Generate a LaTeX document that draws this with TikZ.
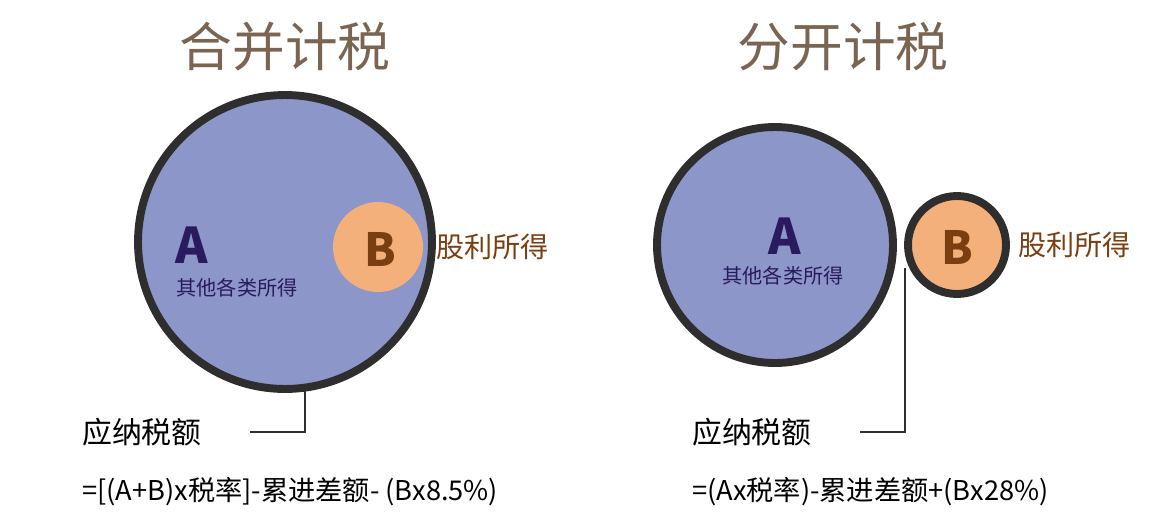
\documentclass[tikz,border=0pt]{standalone}
\usepackage{fontspec}
\setmainfont{Noto Sans CJK SC}
\usetikzlibrary{positioning}
\definecolor{title}{HTML}{7A6552}
\definecolor{ringA}{HTML}{8C96C8}
\definecolor{ringB}{HTML}{F4B07A}
\definecolor{navy}{HTML}{2A1A5E}
\definecolor{brownB}{HTML}{7A3E10}
\definecolor{edge}{HTML}{2E2E2E}
\begin{document}
\begin{tikzpicture}[x=0.02cm,y=-0.02cm,
    heading/.style={font=\fontsize{30}{36}\selectfont, text=title},
    bigcircle/.style={circle, fill=ringA, draw=edge, line width=4.5pt},
    letterA/.style={font=\fontsize{28}{32}\selectfont\bfseries, text=navy},
    letterB/.style={font=\fontsize{26}{30}\selectfont\bfseries, text=brownB},
    small/.style={font=\fontsize{11.5}{14}\selectfont, text=navy},
    side/.style={font=\fontsize{16}{20}\selectfont, text=brownB, anchor=west},
    tax/.style={font=\fontsize{17}{20}\selectfont, anchor=west},
    formula/.style={font=\fontsize{15.5}{19}\selectfont, anchor=west},
    leader/.style={edge, line width=1.5pt}
]
\useasboundingbox (0,0) rectangle (1150,524);

% Left: joint taxation
\node[heading] (titleL) at (285,47) {合并计税};
\node[bigcircle, minimum size=294\pgflinewidth*0+5.88cm] (circA) at (285,242) {};
\fill[ringB] (378,247) circle (45);
\node[letterB] (letB) at (380,249) {B};
\node[letterA] (letA) at (192,245) {A};
\node[small] (otherL) at (237,288) {其他各类所得};
\node[side] (divL) at (430,247) {股利所得};
\coordinate (bendL) at (305,432);
\coordinate (endL) at (250,432);
\draw[leader] (305,390) -- (bendL) -- (endL);
\node[tax] (taxL) at (76,432) {应纳税额};
\node[formula] (formL) at (76,492) {=[(A+B)x税率]-累进差额- (Bx8.5\%)};

% Right: separate taxation
\node[heading] (titleR) at (843,47) {分开计税};
\node[bigcircle, minimum size=4.72cm] (circA2) at (775,245) {};
\node[circle, fill=ringB, draw=edge, line width=4.5pt, minimum size=1.96cm] (circB2) at (957,245) {};
\node[letterB] (letB2) at (957,247) {B};
\node[letterA] (letA2) at (785,236) {A};
\node[small] (otherR) at (783,276) {其他各类所得};
\node[side] (divR) at (1012,245) {股利所得};
\coordinate (topR) at (905,268);
\coordinate (bendR) at (905,432);
\coordinate (endR) at (860,432);
\draw[leader] (topR) -- (bendR) -- (endR);
\node[tax] (taxR) at (686,432) {应纳税额};
\node[formula] (formR) at (686,492) {=(Ax税率)-累进差额+(Bx28\%)};
\end{tikzpicture}
\end{document}
